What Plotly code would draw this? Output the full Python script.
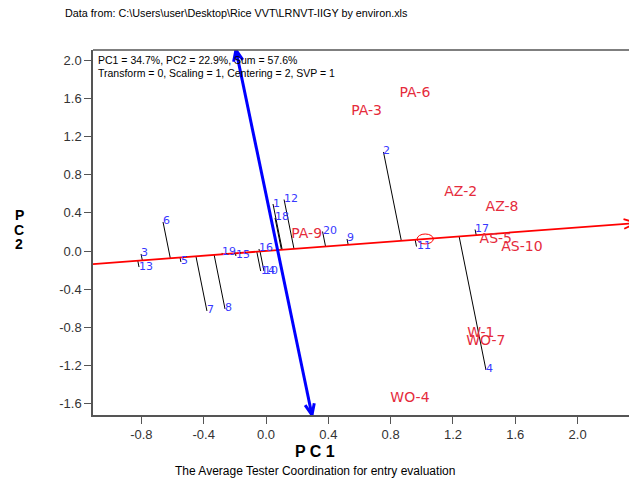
import numpy as np
import plotly.graph_objects as go

# ---------------- data ----------------
entry_names = ["1", "2", "3", "4", "5", "6", "7", "8", "9", "10",
               "11", "12", "13", "14", "15", "16", "17", "18", "19", "20"]
entry_pc1 = [0.045, 0.754, -0.802, 1.412, -0.546, -0.661, -0.379, -0.263, 0.520, -0.013,
             0.966, 0.116, -0.815, -0.034, -0.193, -0.045, 1.342, 0.058, -0.282, 0.363]
entry_pc2 = [0.492, 1.037, -0.031, -1.246, -0.115, 0.304, -0.628, -0.607, 0.126, -0.210,
             0.047, 0.539, -0.168, -0.210, -0.052, 0.021, 0.225, 0.346, -0.020, 0.204]

env_names = ["PA-6", "PA-3", "AZ-2", "AZ-8", "AS-5", "AS-10", "W-1", "WO-7", "WO-4", "PA-9"]
env_pc1 = [0.956, 0.646, 1.250, 1.515, 1.475, 1.643, 1.379, 1.411, 0.924, 0.261]
env_pc2 = [1.649, 1.459, 0.610, 0.458, 0.122, 0.039, -0.869, -0.950, -1.542, 0.175]

avg_env = [1.022, 0.126]                 # average environment (ATC abscissa direction)
ordinate_ends = [[-0.193, 2.105], [0.295, -1.717]]   # ATC ordinate end points

x_tick_vals = [-0.8, -0.4, 0.0, 0.4, 0.8, 1.2, 1.6, 2.0]
x_tick_text = ["-0.8", "-0.4", "0.0", "0.4", "0.8", "1.2", "1.6", "2.0"]
y_tick_vals = [-1.6, -1.2, -0.8, -0.4, 0.0, 0.4, 0.8, 1.2, 1.6, 2.0]
y_tick_text = ["-1.6", "-1.2", "-0.8", "-0.4", "0.0", "0.4", "0.8", "1.2", "1.6", "2.0"]

title_text = "Data from: C:\\Users\\user\\Desktop\\Rice VVT\\LRNVT-IIGY by environ.xls"
info1 = "PC1 = 34.7%, PC2 = 22.9%, Sum = 57.6%"
info2 = "Transform = 0, Scaling = 1, Centering = 2, SVP = 1"
xlab = "P C 1"
ylab_letters = ["P", "C", "2"]
subtitle = "The Average Tester Coordination for entry evaluation"

# ---------------- layout geometry (window pixels) ----------------
WIN_W, WIN_H = 637, 479
OFF = 8                      # browser body margin
L, T, R, B = 93, 50, 637, 415
SX, SY = 155.8, 95.5         # px per data unit
X0PX, Y0PX = 266, 251        # pixel position of data origin
xr = [(L - X0PX) / SX, (R - X0PX) / SX]
yr = [(Y0PX - B) / SY, (Y0PX - T) / SY]


def paper(px, py):
    return (px - L) / (R - L), (B - py) / (B - T)


def wings(tip, direction, length=12, half=0.45):
    ux, uy = direction[0] * SX, direction[1] * SY
    n = np.hypot(ux, uy)
    ux, uy = ux / n, uy / n
    pts = []
    for s in (1, -1):
        c, si = np.cos(s * half), np.sin(s * half)
        rx, ry = ux * c - uy * si, ux * si + uy * c
        pts.append((tip[0] - length * rx / SX, tip[1] - length * ry / SY))
    return pts


fig = go.Figure()

# projection lines of entries on ATC abscissa
ex = np.array(entry_pc1)
ey = np.array(entry_pc2)
d = np.array(avg_env) / np.hypot(*avg_env)
proj = ex * d[0] + ey * d[1]
fx, fy = proj * d[0], proj * d[1]
lx, ly = [], []
for i in range(len(ex)):
    lx += [ex[i], fx[i], None]
    ly += [ey[i], fy[i], None]
fig.add_trace(go.Scatter(x=lx, y=ly, mode="lines", line=dict(color="black", width=1),
                         hoverinfo="skip", showlegend=False))

# ATC abscissa (red) with arrow
slope = avg_env[1] / avg_env[0]
tip = (xr[1], slope * xr[1])
w1, w2 = wings(tip, avg_env, length=14, half=0.35)
fig.add_trace(go.Scatter(x=[xr[0], tip[0], None, w1[0], tip[0], w2[0]],
                         y=[slope * xr[0], tip[1], None, w1[1], tip[1], w2[1]],
                         mode="lines", line=dict(color="#ff0000", width=1.8),
                         hoverinfo="skip", showlegend=False))

# ATC ordinate (blue) with arrows on both ends
(tx, ty), (bx, by) = ordinate_ends
up = (tx - bx, ty - by)
dn = (bx - tx, by - ty)
a1, a2 = wings((tx, ty), up, length=12, half=0.4)
b1, b2 = wings((bx, by), dn, length=12, half=0.4)
fig.add_trace(go.Scatter(
    x=[tx, bx, None, a1[0], tx, a2[0], None, b1[0], bx, b2[0]],
    y=[ty, by, None, a1[1], ty, a2[1], None, b1[1], by, b2[1]],
    mode="lines", line=dict(color="#0000ff", width=3),
    hoverinfo="skip", showlegend=False))

# environment labels
fig.add_trace(go.Scatter(x=env_pc1, y=env_pc2, text=env_names, mode="text",
                         textposition="middle center",
                         textfont=dict(family="DejaVu Sans", size=14, color="#e52b3c"),
                         hoverinfo="skip", showlegend=False))

shapes = []
r = 0.052
shapes.append(dict(type="circle", xref="x", yref="y",
                   x0=avg_env[0] - r, x1=avg_env[0] + r,
                   y0=avg_env[1] - r, y1=avg_env[1] + r,
                   line=dict(color="#ff0000", width=1)))
shapes.append(dict(type="line", xref="paper", yref="paper", x0=0, x1=1, y0=1, y1=1,
                   line=dict(color="#555555", width=1.5)))

annotations = []
for name, x, y in zip(entry_names, entry_pc1, entry_pc2):
    annotations.append(dict(x=x, y=y, xref="x", yref="y", text=name, showarrow=False,
                            xanchor="left", yanchor="middle", yshift=1, xshift=-2,
                            font=dict(family="DejaVu Sans", size=11, color="#3838ff")))


def add_text(px, py, text, size, anchor="left", bold=False):
    x, y = paper(px, py)
    annotations.append(dict(x=x, y=y, xref="paper", yref="paper",
                            text=("<b>%s</b>" % text) if bold else text,
                            showarrow=False, xanchor=anchor, yanchor="middle",
                            font=dict(family="Liberation Sans", size=size, color="black")))


add_text(63, 13, title_text, 10.8)
add_text(96, 60, info1, 10.5)
add_text(96, 73, info2, 10.5)
add_text(315, 451, xlab, 16, "center", True)
add_text(315, 471, subtitle, 12, "center")
for k, letter in enumerate(ylab_letters):
    add_text(19, 215 + 14.5 * k, letter, 14, "center", True)

axis_common = dict(showgrid=False, zeroline=False, showline=True, linecolor="#555555",
                   linewidth=1.5, ticks="outside", ticklen=7, tickwidth=1,
                   tickcolor="#555555",
                   tickfont=dict(family="Liberation Sans", size=13, color="#333333"))

fig.update_layout(
    width=WIN_W - OFF, height=WIN_H - OFF,
    margin=dict(l=L - OFF, r=WIN_W - R, t=T - OFF, b=WIN_H - B),
    paper_bgcolor="white", plot_bgcolor="white",
    xaxis=dict(range=xr, tickvals=x_tick_vals, ticktext=x_tick_text, **axis_common),
    yaxis=dict(range=yr, tickvals=y_tick_vals, ticktext=y_tick_text, **axis_common),
    shapes=shapes, annotations=annotations, showlegend=False,
)

fig.write_html("out.html")
